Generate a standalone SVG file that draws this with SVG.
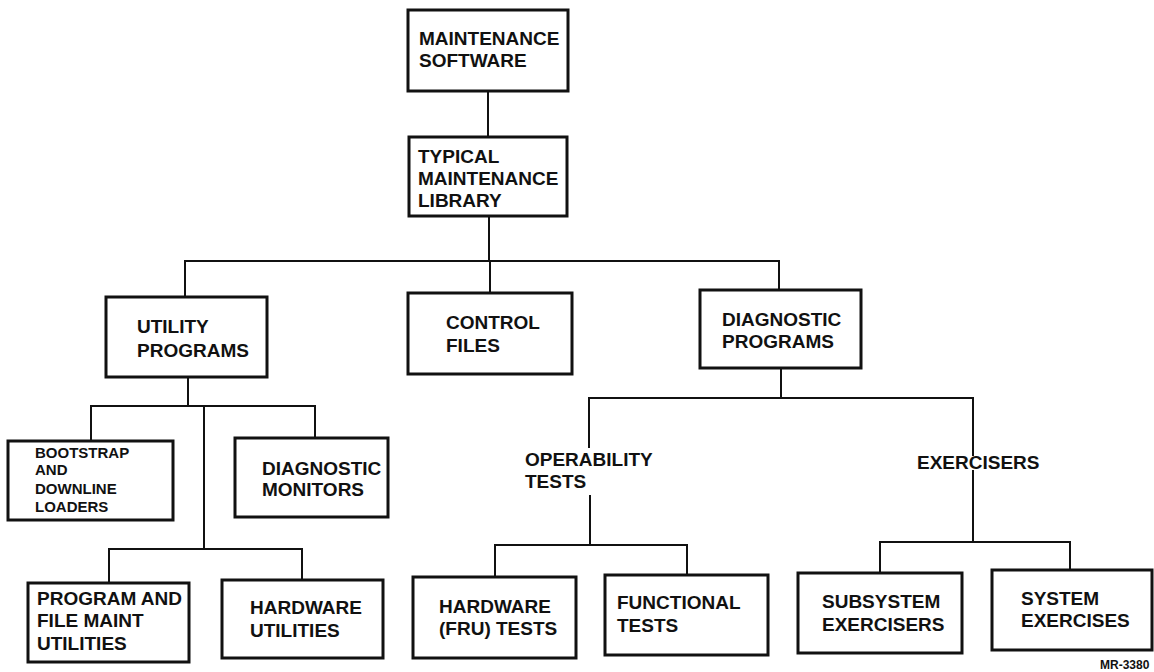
<svg xmlns="http://www.w3.org/2000/svg" width="1154" height="672" viewBox="0 0 1154 672">
<style>
.box{fill:#fff;stroke:#111;stroke-width:3}
.ln{fill:none;stroke:#111;stroke-width:2}
text{font-family:"Liberation Sans",Arial,sans-serif;font-weight:bold;font-size:19px;fill:#111}
.sm{font-size:15px}
.tiny{font-size:12px}
</style>
<rect width="1154" height="672" fill="#fff"/>
<g id="connectors">
<path class="ln" d="M488 91V137"/>
<path class="ln" d="M489 216V261"/>
<path class="ln" d="M185 297V261H779V290"/>
<path class="ln" d="M490 261V293"/>
<path class="ln" d="M188 377V406"/>
<path class="ln" d="M91 440V406H315V438"/>
<path class="ln" d="M204 406V549"/>
<path class="ln" d="M109 583V549H302V580"/>
<path class="ln" d="M781 368V398"/>
<path class="ln" d="M589 448V398H973V456"/>
<path class="ln" d="M973 470V542"/>
<path class="ln" d="M590 495V545"/>
<path class="ln" d="M495 577V545H687V575"/>
<path class="ln" d="M880 573V542H1070V570"/>
</g>
<g id="n_maint_sw"><rect class="box" x="408" y="10" width="160" height="81"/><text x="419" y="45">MAINTENANCE</text><text x="419" y="67">SOFTWARE</text></g>
<g id="n_library"><rect class="box" x="409" y="137" width="158" height="79"/><text x="418" y="163">TYPICAL</text><text x="418" y="185">MAINTENANCE</text><text x="418" y="207">LIBRARY</text></g>
<g id="n_utility"><rect class="box" x="106" y="297" width="161" height="80"/><text x="137" y="333">UTILITY</text><text x="137" y="357">PROGRAMS</text></g>
<g id="n_control"><rect class="box" x="408" y="293" width="164" height="81"/><text x="446" y="329">CONTROL</text><text x="446" y="352">FILES</text></g>
<g id="n_diagprog"><rect class="box" x="700" y="290" width="161" height="78"/><text x="722" y="326">DIAGNOSTIC</text><text x="722" y="348">PROGRAMS</text></g>
<g id="n_bootstrap"><rect class="box" x="8" y="441" width="165" height="79"/><text class="sm" x="35" y="458">BOOTSTRAP</text><text class="sm" x="35" y="475">AND</text><text class="sm" x="35" y="494">DOWNLINE</text><text class="sm" x="35" y="512">LOADERS</text></g>
<g id="n_diagmon"><rect class="box" x="235" y="438" width="153" height="79"/><text x="262" y="475">DIAGNOSTIC</text><text x="262" y="496">MONITORS</text></g>
<g id="n_progfile"><rect class="box" x="28" y="583" width="161" height="79"/><text x="37" y="605">PROGRAM AND</text><text x="37" y="627">FILE MAINT</text><text x="37" y="650">UTILITIES</text></g>
<g id="n_hwutil"><rect class="box" x="222" y="580" width="161" height="78"/><text x="250" y="614">HARDWARE</text><text x="250" y="637">UTILITIES</text></g>
<g id="l_operability"><text x="525" y="466">OPERABILITY</text><text x="525" y="488">TESTS</text></g>
<g id="l_exercisers"><text x="917" y="469">EXERCISERS</text></g>
<g id="n_hwfru"><rect class="box" x="413" y="577" width="163" height="81"/><text x="439" y="613">HARDWARE</text><text x="439" y="635">(FRU) TESTS</text></g>
<g id="n_functional"><rect class="box" x="605" y="575" width="163" height="80"/><text x="617" y="609">FUNCTIONAL</text><text x="617" y="632">TESTS</text></g>
<g id="n_subsys"><rect class="box" x="798" y="573" width="164" height="80"/><text x="822" y="608">SUBSYSTEM</text><text x="822" y="631">EXERCISERS</text></g>
<g id="n_system"><rect class="box" x="992" y="570" width="160" height="80"/><text x="1021" y="605">SYSTEM</text><text x="1021" y="627">EXERCISES</text></g>
<text class="tiny" x="1100" y="669">MR-3380</text>
</svg>
